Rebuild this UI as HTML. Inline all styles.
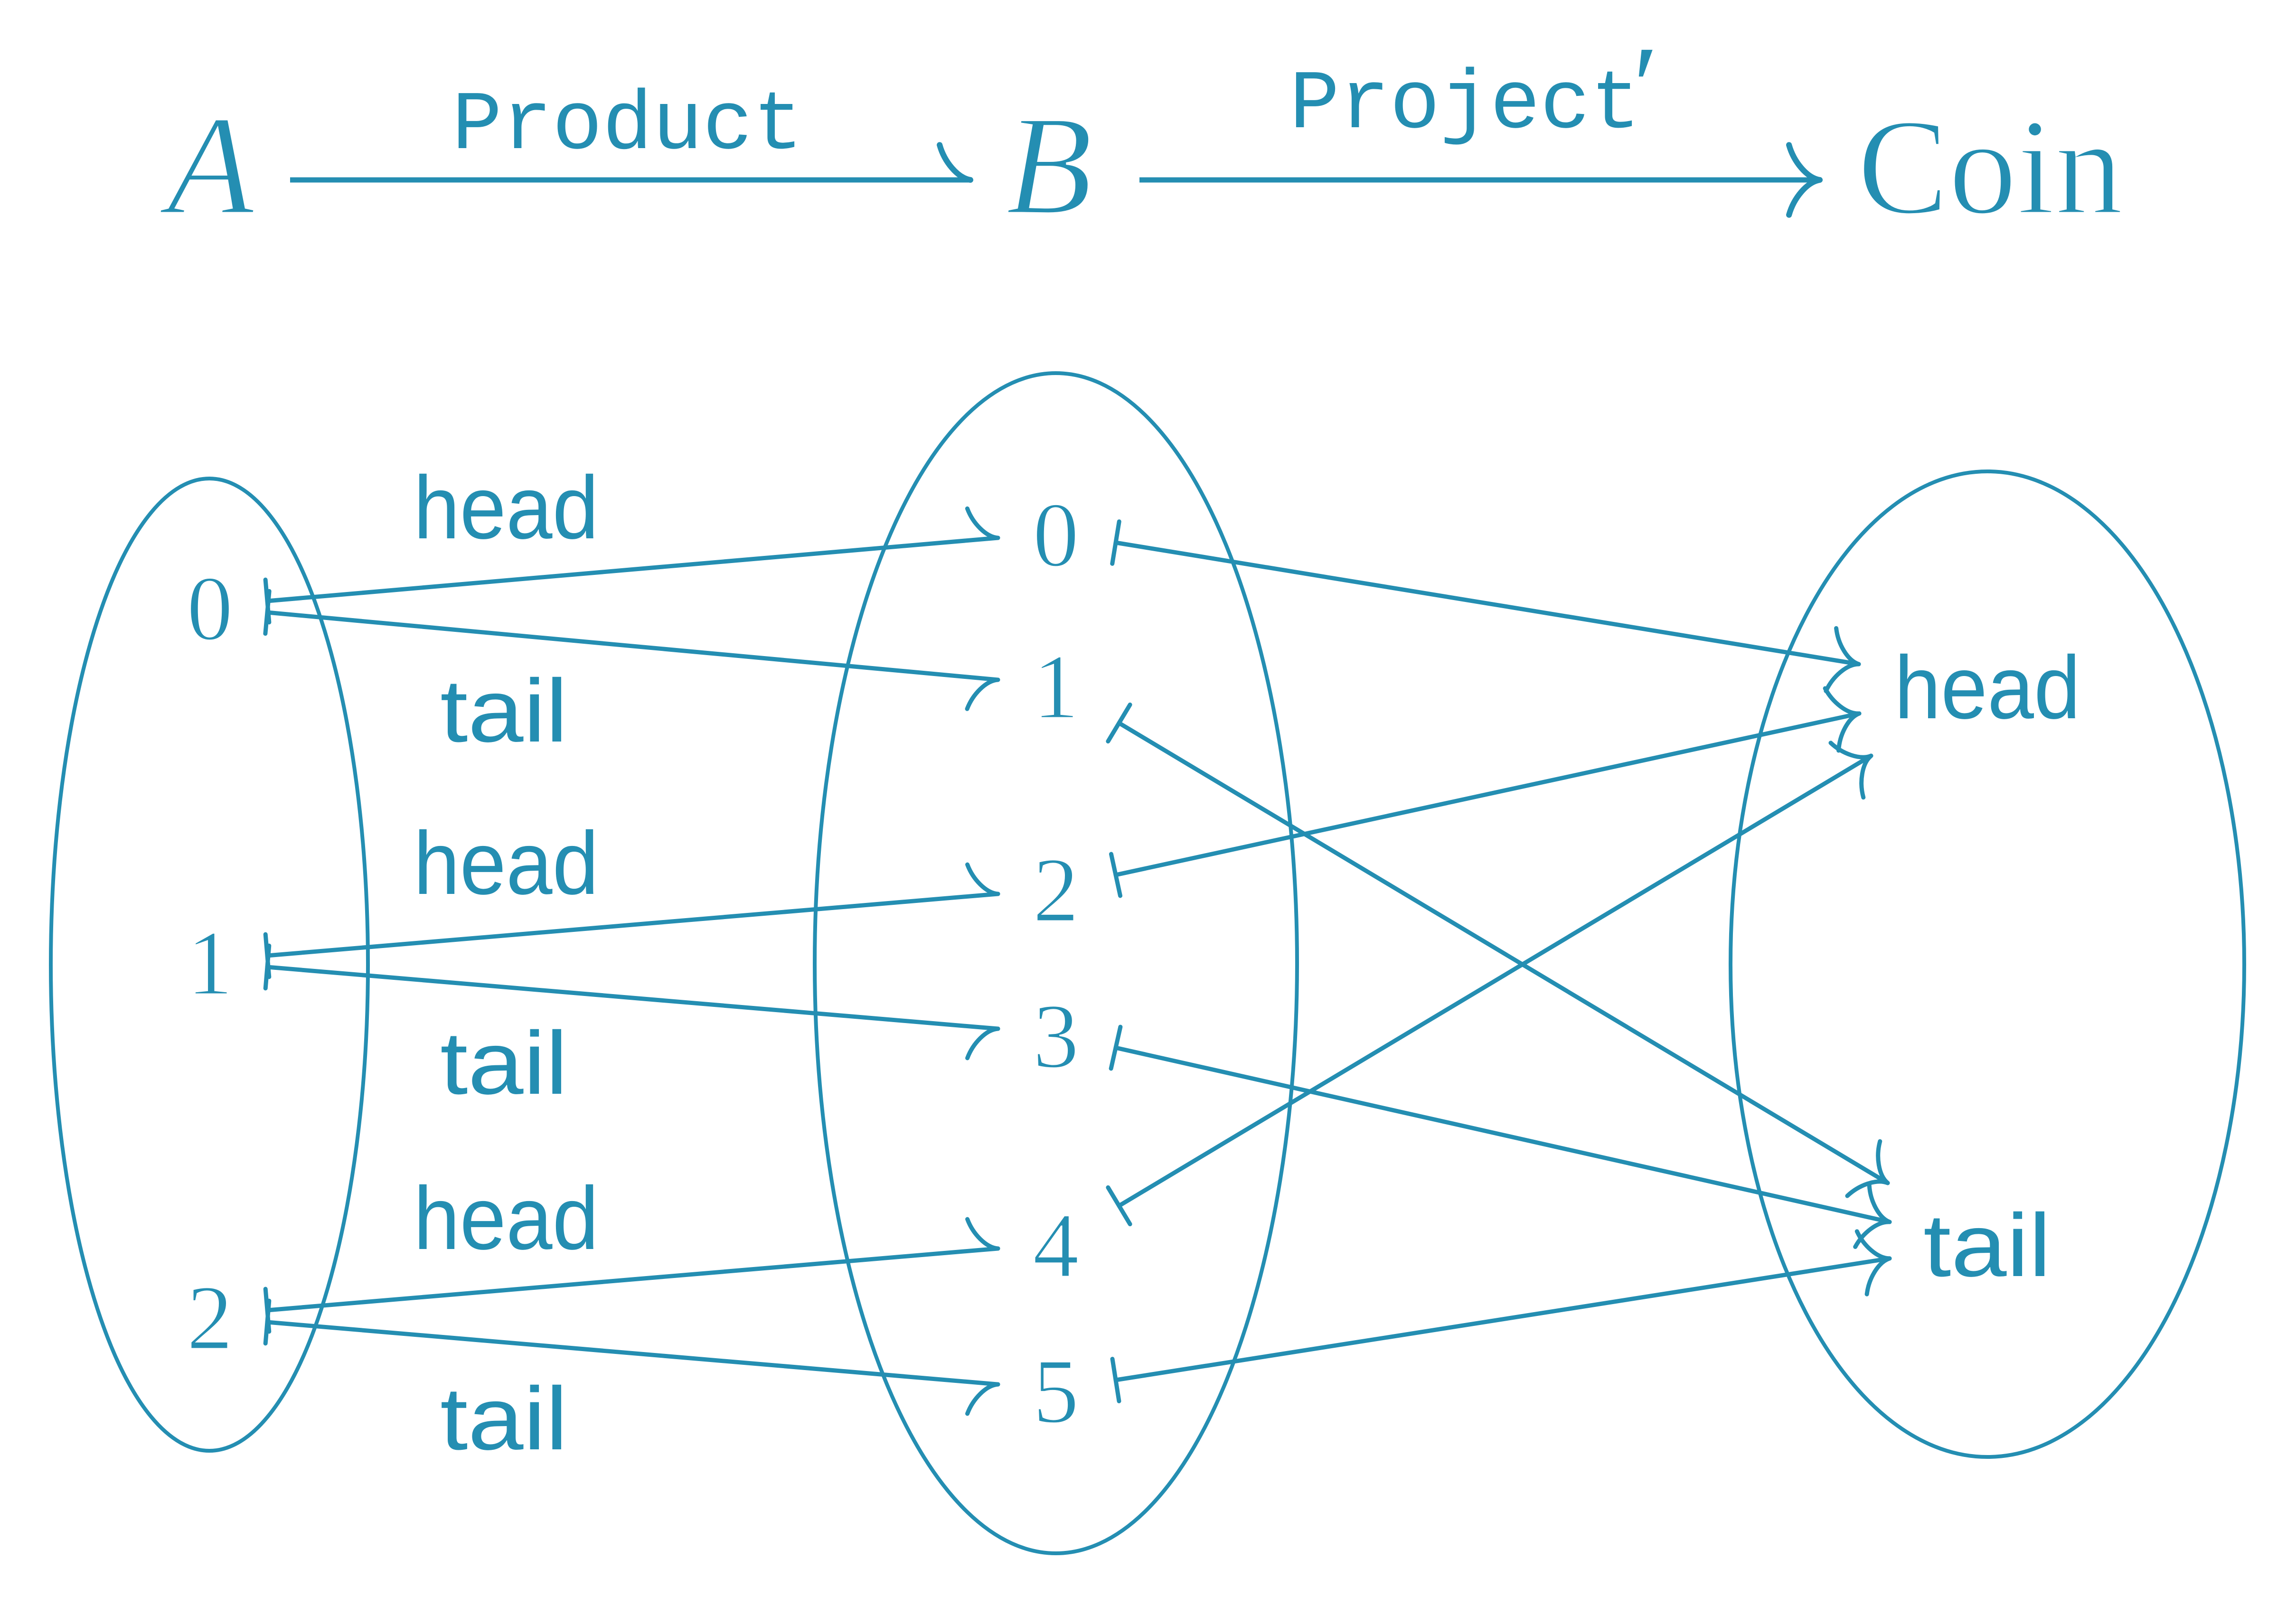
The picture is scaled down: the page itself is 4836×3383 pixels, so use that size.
<!DOCTYPE html>
<html>
<head>
<meta charset="utf-8">
<style>
  html, body { margin: 0; padding: 0; background: #ffffff; }
  svg { display: block; }
  .serif { font-family: "Liberation Serif", "DejaVu Serif", serif; }
  .ital { font-family: "Liberation Serif", "DejaVu Serif", serif; font-style: italic; }
  .mono { font-family: "Liberation Mono", "DejaVu Sans Mono", monospace; }
  .sans { font-family: "Liberation Sans", "DejaVu Sans", sans-serif; }
</style>
</head>
<body>
<svg width="4836" height="3383" viewBox="0 0 4836 3383" xmlns="http://www.w3.org/2000/svg">
  <rect x="0" y="0" width="4836" height="3383" fill="#ffffff"/>
  <g fill="#248eb2" stroke="none">
    <!-- top row -->
    <g stroke="#ffffff" stroke-width="5">
      <text class="ital" x="352" y="449" font-size="300">A</text>
      <text class="ital" x="2118" y="449" font-size="300">B</text>
      <text class="serif" x="3912" y="449" font-size="290" textLength="560" lengthAdjust="spacingAndGlyphs">Coin</text>
    </g>
    <text class="mono" x="952" y="312" font-size="176">Product</text>
    <text class="mono" x="2716" y="268" font-size="176">Project</text>
    <text class="serif" x="3440" y="262" font-size="240">′</text>

    <g stroke="#ffffff" stroke-width="3">
      <!-- left digits -->
      <text class="serif" x="442" y="1347" font-size="195" text-anchor="middle">0</text>
      <text class="serif" x="442" y="2094" font-size="195" text-anchor="middle">1</text>
      <text class="serif" x="442" y="2841" font-size="195" text-anchor="middle">2</text>

      <!-- middle digits -->
      <text class="serif" x="2224" y="1192" font-size="195" text-anchor="middle">0</text>
      <text class="serif" x="2224" y="1512" font-size="195" text-anchor="middle">1</text>
      <text class="serif" x="2224" y="1940" font-size="195" text-anchor="middle">2</text>
      <text class="serif" x="2224" y="2248" font-size="195" text-anchor="middle">3</text>
      <text class="serif" x="2224" y="2689" font-size="195" text-anchor="middle">4</text>
      <text class="serif" x="2224" y="2996" font-size="195" text-anchor="middle">5</text>
    </g>

    <!-- edge labels -->
    <text class="sans" x="871" y="1134" font-size="188" textLength="390" lengthAdjust="spacingAndGlyphs">head</text>
    <text class="sans" x="927" y="1562" font-size="188" textLength="269" lengthAdjust="spacingAndGlyphs">tail</text>
    <text class="sans" x="871" y="1883" font-size="188" textLength="390" lengthAdjust="spacingAndGlyphs">head</text>
    <text class="sans" x="927" y="2304" font-size="188" textLength="269" lengthAdjust="spacingAndGlyphs">tail</text>
    <text class="sans" x="871" y="2631" font-size="188" textLength="390" lengthAdjust="spacingAndGlyphs">head</text>
    <text class="sans" x="927" y="3053" font-size="188" textLength="269" lengthAdjust="spacingAndGlyphs">tail</text>

    <!-- right labels -->
    <text class="sans" x="3990" y="1513" font-size="188" textLength="392" lengthAdjust="spacingAndGlyphs">head</text>
    <text class="sans" x="4051" y="2688" font-size="188" textLength="269" lengthAdjust="spacingAndGlyphs">tail</text>
  </g>

  <g fill="none" stroke="#248eb2" stroke-linecap="round" stroke-linejoin="round">
    <!-- ellipses -->
    <ellipse cx="441" cy="2032" rx="334" ry="1024" stroke-width="8"/>
    <ellipse cx="2224" cy="2029" rx="508" ry="1243" stroke-width="8"/>
    <ellipse cx="4186" cy="2031" rx="541" ry="1038" stroke-width="8"/>

    <!-- top arrows -->
    <g stroke-width="11">
      <line x1="611" y1="379" x2="2044" y2="379" stroke-linecap="butt"/>
      <path transform="translate(2044,379) scale(1.1)" d="M -59 -67 C -50 -35 -25 -4 0 0"/>
      <line x1="2400" y1="379" x2="3833" y2="379" stroke-linecap="butt"/>
      <path transform="translate(3833,379) scale(1.1)" d="M -59 -67 C -50 -35 -25 -4 0 0 M -59 67 C -50 35 -25 4 0 0"/>
    </g>

    <g stroke-width="9">
      <!-- left -> middle -->
      <g transform="translate(563,1266) rotate(-4.94)">
        <line x1="0" y1="0" x2="1544.7" y2="0"/>
        <line x1="0" y1="-45" x2="0" y2="45"/>
        <path transform="translate(1544.7,0)" d="M -59 -67 C -50 -35 -25 -4 0 0"/>
      </g>
      <g transform="translate(563,1290) rotate(5.27)">
        <line x1="0" y1="0" x2="1545.5" y2="0"/>
        <line x1="0" y1="-45" x2="0" y2="45"/>
        <path transform="translate(1545.5,0)" d="M -59 67 C -50 35 -25 4 0 0"/>
      </g>
      <g transform="translate(563,2013) rotate(-4.83)">
        <line x1="0" y1="0" x2="1544.5" y2="0"/>
        <line x1="0" y1="-45" x2="0" y2="45"/>
        <path transform="translate(1544.5,0)" d="M -59 -67 C -50 -35 -25 -4 0 0"/>
      </g>
      <g transform="translate(563,2037) rotate(4.83)">
        <line x1="0" y1="0" x2="1544.5" y2="0"/>
        <line x1="0" y1="-45" x2="0" y2="45"/>
        <path transform="translate(1544.5,0)" d="M -59 67 C -50 35 -25 4 0 0"/>
      </g>
      <g transform="translate(563,2760) rotate(-4.83)">
        <line x1="0" y1="0" x2="1544.5" y2="0"/>
        <line x1="0" y1="-45" x2="0" y2="45"/>
        <path transform="translate(1544.5,0)" d="M -59 -67 C -50 -35 -25 -4 0 0"/>
      </g>
      <g transform="translate(563,2785) rotate(4.87)">
        <line x1="0" y1="0" x2="1544.6" y2="0"/>
        <line x1="0" y1="-45" x2="0" y2="45"/>
        <path transform="translate(1544.6,0)" d="M -59 67 C -50 35 -25 4 0 0"/>
      </g>

      <!-- middle -> right -->
      <g transform="translate(2350,1143) rotate(9.29)">
        <line x1="0" y1="0" x2="1585.8" y2="0"/>
        <line x1="0" y1="-45" x2="0" y2="45"/>
        <path transform="translate(1585.8,0)" d="M -59 -67 C -50 -35 -25 -4 0 0 M -59 67 C -50 35 -25 4 0 0"/>
      </g>
      <g transform="translate(2357,1523) rotate(30.9)">
        <line x1="0" y1="0" x2="1886.8" y2="0"/>
        <line x1="0" y1="-45" x2="0" y2="45"/>
        <path transform="translate(1886.8,0)" d="M -59 -67 C -50 -35 -25 -4 0 0 M -59 67 C -50 35 -25 4 0 0"/>
      </g>
      <g transform="translate(2350,1843) rotate(-12.25)">
        <line x1="0" y1="0" x2="1602.5" y2="0"/>
        <line x1="0" y1="-45" x2="0" y2="45"/>
        <path transform="translate(1602.5,0)" d="M -59 -67 C -50 -35 -25 -4 0 0 M -59 67 C -50 35 -25 4 0 0"/>
      </g>
      <g transform="translate(2350,2207) rotate(12.69)">
        <line x1="0" y1="0" x2="1670.8" y2="0"/>
        <line x1="0" y1="-45" x2="0" y2="45"/>
        <path transform="translate(1670.8,0)" d="M -59 -67 C -50 -35 -25 -4 0 0 M -59 67 C -50 35 -25 4 0 0"/>
      </g>
      <g transform="translate(2357,2540) rotate(-30.9)">
        <line x1="0" y1="0" x2="1846" y2="0"/>
        <line x1="0" y1="-45" x2="0" y2="45"/>
        <path transform="translate(1846,0)" d="M -59 -67 C -50 -35 -25 -4 0 0 M -59 67 C -50 35 -25 4 0 0"/>
      </g>
      <g transform="translate(2350,2907) rotate(-8.93)">
        <line x1="0" y1="0" x2="1650" y2="0"/>
        <line x1="0" y1="-45" x2="0" y2="45"/>
        <path transform="translate(1650,0)" d="M -59 -67 C -50 -35 -25 -4 0 0 M -59 67 C -50 35 -25 4 0 0"/>
      </g>
    </g>
  </g>
</svg>
</body>
</html>
